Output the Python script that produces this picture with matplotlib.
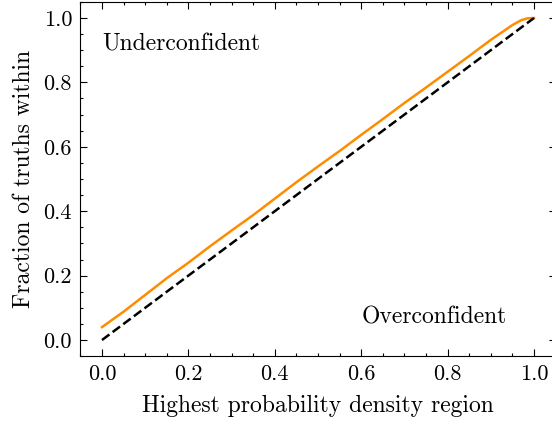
import matplotlib
matplotlib.use("Agg")
import matplotlib.pyplot as plt
from matplotlib.ticker import MultipleLocator, FormatStrFormatter

# HPD credible level vs fraction of truths inside
hpd_level = [0.00, 0.05, 0.10, 0.15, 0.20, 0.25, 0.30, 0.35, 0.40, 0.45, 0.50,
             0.55, 0.60, 0.65, 0.70, 0.75, 0.80, 0.85, 0.90, 0.95, 0.97, 0.985, 1.00]
frac_truths = [0.040, 0.088, 0.140, 0.192, 0.240, 0.291, 0.340, 0.388, 0.439, 0.490, 0.539,
               0.587, 0.637, 0.686, 0.736, 0.784, 0.833, 0.882, 0.932, 0.978, 0.993, 0.999, 1.000]
diag = [0.0, 1.0]

plt.rcParams['font.family'] = ['cmr10', 'DejaVu Serif']
plt.rcParams['mathtext.fontset'] = 'cm'
plt.rcParams['axes.formatter.use_mathtext'] = True
plt.rcParams['font.size'] = 16
plt.rcParams['axes.linewidth'] = 0.8
plt.rcParams['xtick.direction'] = 'in'
plt.rcParams['ytick.direction'] = 'in'
plt.rcParams['xtick.top'] = True
plt.rcParams['ytick.right'] = True
plt.rcParams['xtick.major.size'] = 5
plt.rcParams['ytick.major.size'] = 5
plt.rcParams['xtick.minor.size'] = 2.5
plt.rcParams['ytick.minor.size'] = 2.5
plt.rcParams['xtick.major.width'] = 0.8
plt.rcParams['ytick.major.width'] = 0.8
plt.rcParams['xtick.minor.width'] = 0.8
plt.rcParams['ytick.minor.width'] = 0.8

fig = plt.figure(figsize=(5.52, 4.23), dpi=100)
ax = fig.add_axes([80.4 / 552, (423 - 356.1) / 423, 475.2 / 552, 354.2 / 423])

ax.plot(hpd_level, frac_truths, color='darkorange', lw=1.8)
ax.plot(diag, diag, 'k--', lw=1.8)

ax.text(0.0, 0.9, 'Underconfident', fontsize=17)
ax.text(0.6, 0.05, 'Overconfident', fontsize=17)

ax.set_xlim(-0.05, 1.05)
ax.set_ylim(-0.05, 1.05)
ax.xaxis.set_major_locator(MultipleLocator(0.2))
ax.yaxis.set_major_locator(MultipleLocator(0.2))
ax.xaxis.set_minor_locator(MultipleLocator(0.05))
ax.yaxis.set_minor_locator(MultipleLocator(0.05))
ax.xaxis.set_major_formatter(FormatStrFormatter('%.1f'))
ax.yaxis.set_major_formatter(FormatStrFormatter('%.1f'))
ax.tick_params(which='both', pad=6)

ax.set_xlabel('Highest probability density region', fontsize=17, labelpad=8)
ax.set_ylabel('Fraction of truths within', fontsize=17, labelpad=6)

fig.savefig('out.png', dpi=100)
